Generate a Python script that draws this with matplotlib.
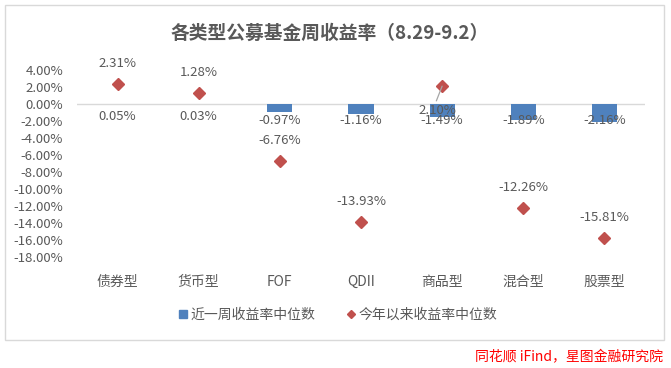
import numpy as np
import matplotlib
matplotlib.use('Agg')
import matplotlib.pyplot as plt
from matplotlib.lines import Line2D
from matplotlib.patches import Rectangle

plt.rcParams['font.family'] = ['Noto Sans CJK SC', 'DejaVu Sans']

# data
categories = ['债券型', '货币型', 'FOF', 'QDII', '商品型', '混合型', '股票型']
weekly = [0.05, 0.03, -0.97, -1.16, -1.49, -1.89, -2.16]      # 近一周收益率中位数 (%)
ytd = [2.31, 1.28, -6.76, -13.93, 2.10, -12.26, -15.81]      # 今年以来收益率中位数 (%)
yticks = list(range(-18, 5, 2))

txt = '#595959'
blue = '#4F81BD'
red = '#C0504D'

fig = plt.figure(figsize=(6.71, 3.68), dpi=100)

# outer frame
fig.patches.append(Rectangle((5/671, 1-340/368), 659/671, 335/368, transform=fig.transFigure,
                             fill=False, edgecolor='#D9D9D9', lw=1))

ax = fig.add_axes([77/671, 1-257/368, 568/671, 187/368])
x = np.arange(len(categories))

ax.bar(x, weekly, width=0.31, color=blue, zorder=2)
ax.plot(x, ytd, ls='none', marker='D', ms=6, color=red, zorder=3)
ax.axhline(0, color='#D9D9D9', lw=1, zorder=1)

ax.set_xlim(-0.5, len(categories) - 0.5)
ax.set_ylim(-18, 4)
ax.set_yticks(yticks)
ax.set_yticklabels(['%.2f%%' % v for v in yticks], fontsize=9.5, color=txt)
ax.set_xticks(x)
ax.set_xticklabels(categories, fontsize=10, color=txt)
ax.tick_params(axis='y', length=0, pad=10)
ax.tick_params(axis='x', length=0, pad=13)
for s in ax.spines.values():
    s.set_visible(False)

# labels for weekly bars
for i, v in enumerate(weekly):
    off = -12 if v >= 0 else -16
    ax.annotate('%.2f%%' % v, (i, 0), xytext=(0, off), textcoords='offset pixels',
                ha='center', va='center', fontsize=9.5, color=txt, zorder=4)

# labels for ytd diamonds
for i, v in enumerate(ytd):
    if categories[i] == '商品型':
        # label pushed below the point, with a leader line
        ax.annotate('%.2f%%' % v, (i, v), xytext=(-5, -24), textcoords='offset pixels',
                    ha='center', va='center', fontsize=9.5, color=txt, zorder=4,
                    arrowprops=dict(arrowstyle='-', color='#A6A6A6', lw=0.9,
                                    shrinkA=0, shrinkB=0, relpos=(0.45, 1.0)))
    else:
        ax.annotate('%.2f%%' % v, (i, v), xytext=(0, 21), textcoords='offset pixels',
                    ha='center', va='center', fontsize=9.5, color=txt, zorder=4)

fig.text(330/671, 1-33/368, '各类型公募基金周收益率（8.29-9.2）', ha='center', va='center',
         fontsize=13.5, fontweight='bold', color=txt)

handles = [Line2D([], [], ls='none', marker='s', ms=6, color=blue),
           Line2D([], [], ls='none', marker='D', ms=4.5, color=red)]
fig.legend(handles, ['近一周收益率中位数', '今年以来收益率中位数'], loc='center',
           bbox_to_anchor=(338/671, 1-315/368), ncol=2, frameon=False, fontsize=10,
           labelcolor=txt, handlelength=0.6, handletextpad=0.3, columnspacing=2.2)

fig.text(663/671, 1-357/368, '同花顺 iFind，星图金融研究院', ha='right', va='center',
         fontsize=10, color='#FF0000', style='italic')

fig.savefig('out.png', dpi=100)
